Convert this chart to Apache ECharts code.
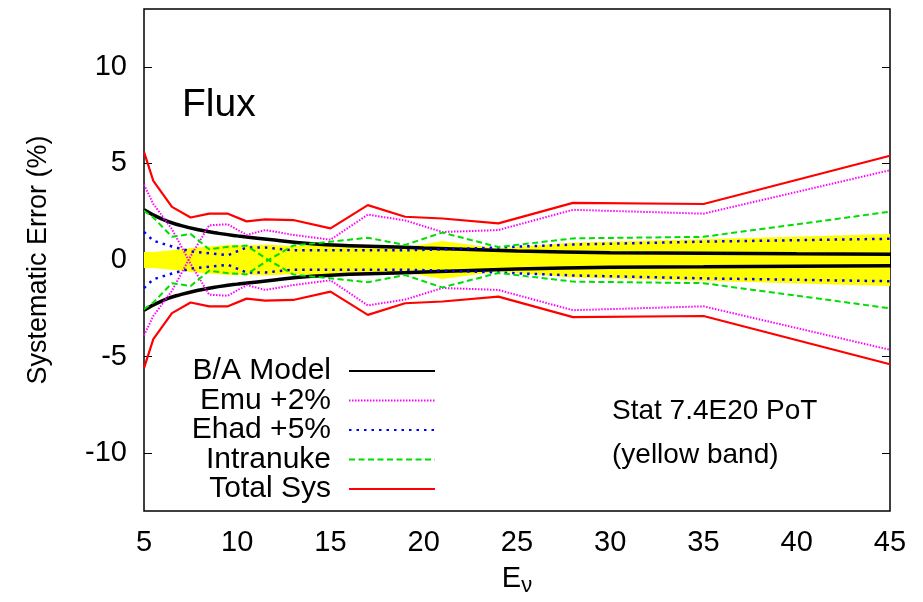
<!DOCTYPE html>
<html>
<head>
<meta charset="utf-8">
<script src="https://cdn.jsdelivr.net/npm/echarts@6/dist/echarts.min.js"></script>
<style>
  html, body { margin: 0; padding: 0; background: #fff; }
  #chart { width: 923px; height: 602px; }
</style>
</head>
<body>
<div id="chart"></div>
<script>
// Neutrino energy bins (GeV)
const energy = [5, 5.5, 6.5, 7.5, 8.5, 9.5, 10.5, 11.5, 13, 15, 17, 19, 21, 24, 28, 35, 45];
// Statistical error (%), drawn as a symmetric band
const statErr = [0.42, 0.42, 0.5, 0.62, 0.7, 0.78, 0.75, 0.8, 0.72, 0.8, 0.75, 0.65, 0.98, 0.6, 0.9, 1.08, 1.35];
// Shift of the flux from each systematic (%)
const emuShift = [3.9, 2.9, 1.6, -0.2, -1.8, -1.85, -1.3, -1.55, -1.3, -1.05, -2.35, -2.05, -1.45, -1.55, -2.6, -2.4, -4.65];
const ehadShift = [1.45, 1.0, 0.7, 0.45, 0.35, 0.25, 0.65, 0.65, 0.5, 0.5, 0.5, 0.5, 0.55, 0.65, 0.8, 0.95, 1.1];
const intranukeShift = [2.55, 2.2, 1.2, 1.35, 0.55, 0.68, 0.75, 0.1, -0.75, -0.95, -1.15, -0.78, -1.42, -0.67, -1.12, -1.2, -2.5];
const totalSys = [5.6, 4.1, 2.75, 2.2, 2.4, 2.4, 2.0, 2.1, 2.07, 1.64, 2.84, 2.24, 2.15, 1.9, 2.96, 2.9, 5.4];
// B/A model curve
const modelEnergy = [5, 6, 7, 8, 9, 10, 12, 14, 16, 18, 20, 25, 30, 35, 40, 45];
const modelErr = [2.6, 2.1, 1.78, 1.55, 1.38, 1.25, 1.03, 0.84, 0.74, 0.69, 0.62, 0.47, 0.38, 0.35, 0.32, 0.3];

const xTicks = [5, 10, 15, 20, 25, 30, 35, 40, 45];
const yTicks = [-10, -5, 0, 5, 10];

const pair = (xs, ys, sign) => xs.map((x, i) => [x, sign * ys[i]]);

const FONT = '"Liberation Sans", Arial, Helvetica, sans-serif';

function lineSeries(name, xs, ys, sign, color, width, dash, z) {
  return {
    name: name,
    type: 'line',
    data: pair(xs, ys, sign),
    symbol: 'none',
    smooth: false,
    z: z,
    lineStyle: { color: color, width: width, type: dash, cap: 'butt' },
    itemStyle: { color: color },
    emphasis: { disabled: true },
    animation: false
  };
}

const series = [];
// statistical band
[1, -1].forEach(function (s) {
  series.push({
    name: 'Stat',
    type: 'line',
    data: pair(energy, statErr, s),
    symbol: 'none',
    lineStyle: { width: 0 },
    areaStyle: { color: '#ffff00', opacity: 1, origin: 0 },
    z: 1,
    animation: false
  });
});
[1, -1].forEach(function (s) {
  series.push(lineSeries('B/A Model', modelEnergy, modelErr, s, '#000000', 3.5, 'solid', 3));
  series[series.length - 1].smooth = true;
  series.push(lineSeries('Emu +2%', energy, emuShift, s, '#ff00ff', 2, [1.5, 1.5], 4));
  series.push(lineSeries('Ehad +5%', energy, ehadShift, s, '#0000ff', 2.5, [2.5, 5], 5));
  series.push(lineSeries('Intranuke', energy, intranukeShift, s, '#00dd00', 2, [6, 3.5], 6));
  series.push(lineSeries('Total Sys', energy, totalSys, s, '#ff0000', 2.2, 'solid', 7));
});

const chart = echarts.init(document.getElementById('chart'), null, { renderer: 'canvas' });
chart.setOption({
  backgroundColor: '#ffffff',
  animation: false,
  textStyle: { fontFamily: FONT },
  grid: { left: 144, right: 33, top: 9, bottom: 91, show: true, borderColor: '#000', borderWidth: 1.5, backgroundColor: 'transparent' },
  xAxis: [{
    type: 'value', min: 5, max: 45, interval: 5,
    name: 'E{sub|ν}', nameLocation: 'middle', nameGap: 50,
    nameTextStyle: { fontSize: 29, color: '#000', fontFamily: FONT, rich: { sub: { fontSize: 22, verticalAlign: 'bottom', padding: [14, 0, 0, 0], fontFamily: FONT } } },
    axisLine: { show: false },
    axisTick: { show: true, inside: true, length: 8, lineStyle: { color: '#000', width: 1 } },
    axisLabel: { fontSize: 29, color: '#000', margin: 17, fontFamily: FONT,
      customValues: xTicks },
    splitLine: { show: false }
  }, {
    type: 'value', position: 'top', min: 5, max: 45, interval: 5,
    axisLine: { show: false },
    axisTick: { show: true, inside: true, length: 8, lineStyle: { color: '#000', width: 1 } },
    axisLabel: { show: false }, splitLine: { show: false }
  }],
  yAxis: [{
    type: 'value', min: -13, max: 13,
    name: 'Systematic Error (%)', nameLocation: 'middle', nameGap: 92, nameRotate: 90,
    nameTextStyle: { fontSize: 27, color: '#000', fontFamily: FONT },
    axisLine: { show: false },
    axisTick: { show: true, inside: true, length: 8, customValues: yTicks, lineStyle: { color: '#000', width: 1 } },
    axisLabel: { fontSize: 29, color: '#000', margin: 17, customValues: yTicks, fontFamily: FONT },
    splitLine: { show: false }
  }, {
    type: 'value', position: 'right', min: -13, max: 13,
    axisLine: { show: false },
    axisTick: { show: true, inside: true, length: 8, customValues: yTicks, lineStyle: { color: '#000', width: 1 } },
    axisLabel: { show: false }, splitLine: { show: false }
  }],
  legend: {
    data: ['B/A Model', 'Emu +2%', 'Ehad +5%', 'Intranuke', 'Total Sys'],
    orient: 'vertical', align: 'right',
    right: 487, top: 356, padding: 0,
    itemWidth: 86, itemHeight: 14, itemGap: -0.5,
    selectedMode: false,
    itemStyle: { opacity: 0 },
    textStyle: { fontSize: 30, color: '#000', fontFamily: FONT, width: 170, align: 'right', lineHeight: 28, padding: [0, 13, 0, 0] }
  },
  graphic: [
    { type: 'text', left: 182, top: 86, style: { text: 'Flux', font: '39px ' + FONT, fill: '#000' } },
    { type: 'text', left: 612, top: 397, style: { text: 'Stat 7.4E20 PoT', font: '28px ' + FONT, fill: '#000' } },
    { type: 'text', left: 612, top: 441, style: { text: '(yellow band)', font: '28px ' + FONT, fill: '#000' } }
  ],
  series: series
});
</script>
</body>
</html>
